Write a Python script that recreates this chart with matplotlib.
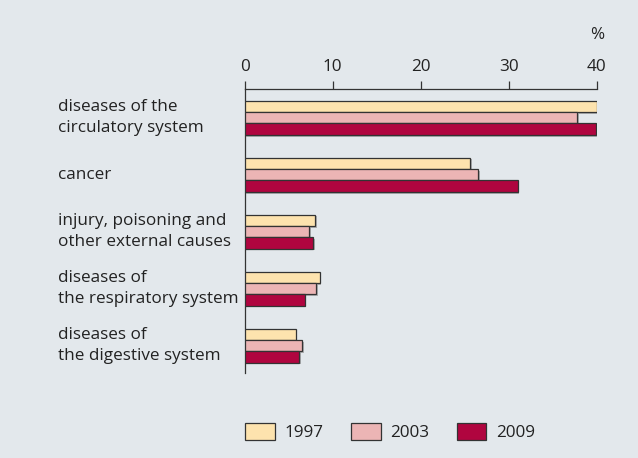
import matplotlib
matplotlib.use("Agg")
import matplotlib.pyplot as plt
import matplotlib.patheffects as pe
import matplotlib.transforms as mtrans
import numpy as np

plt.rcParams['font.family'] = ['Open Sans', 'DejaVu Sans']

categories = ["diseases of the\ncirculatory system", "cancer",
              "injury, poisoning and\nother external causes",
              "diseases of\nthe respiratory system",
              "diseases of\nthe digestive system"]
years = ["1997", "2003", "2009"]
v1997 = [40.0, 25.6, 8.0, 8.5, 5.8]
v2003 = [37.8, 26.5, 7.3, 8.1, 6.5]
v2009 = [39.9, 31.0, 7.75, 6.8, 6.2]
colors = ["#fde3ae", "#ecb5b5", "#b0053f"]
xticks = [0, 10, 20, 30, 40]

FS = 12.3
bg = "#e3e8ec"
fig = plt.figure(figsize=(6.38, 4.58), dpi=100, facecolor=bg)
ax = fig.add_axes([244.7/638, 85/458, (596.7-244.7)/638, (373-89.3)/458])
ax.set_facecolor(bg)

y = np.arange(len(categories))
h = 0.2
shadow = [pe.SimplePatchShadow(offset=(1.2, -1.2), shadow_rgbFace="#888888", alpha=0.6), pe.Normal()]
for i, (vals, yr) in enumerate(zip([v1997, v2003, v2009], years)):
    bars = ax.barh(y + (i - 1) * h, vals, height=h, color=colors[i],
                   edgecolor="#333333", linewidth=0.9, label=yr, zorder=3)
    for b in bars:
        b.set_path_effects(shadow)

ax.set_xlim(0, 40)
ax.set_ylim(4.48, -0.5)
ax.xaxis.tick_top()
ax.set_xticks(xticks)
ax.set_xticklabels([str(t) for t in xticks], fontsize=FS, color="#222222")
ax.tick_params(axis='x', direction='out', length=5.5, width=0.9, color="#333333", pad=5)
ax.set_yticks([])
for s in ["right", "bottom"]:
    ax.spines[s].set_visible(False)
for s in ["left", "top"]:
    ax.spines[s].set_color("#333333")
    ax.spines[s].set_linewidth(0.9)

tr = mtrans.blended_transform_factory(fig.transFigure, ax.transData)
for yi, cat in zip(y, categories):
    ax.text(58/638, yi, cat, transform=tr, fontsize=FS, color="#222222",
            va='center', ha='left', linespacing=1.4)

fig.text(597/638, 1 - 35/458, "%", fontsize=FS, color="#222222", ha='center', va='center')

leg = fig.legend(loc='center', bbox_to_anchor=(390/638, 1 - 432/458), ncol=3, frameon=False,
                 fontsize=FS, handlelength=1.75, handleheight=1.2, handletextpad=0.55,
                 columnspacing=1.6, labelcolor="#222222")
for hnd in leg.legend_handles:
    hnd.set_path_effects([])

fig.savefig("out.png", dpi=100, facecolor=bg)
